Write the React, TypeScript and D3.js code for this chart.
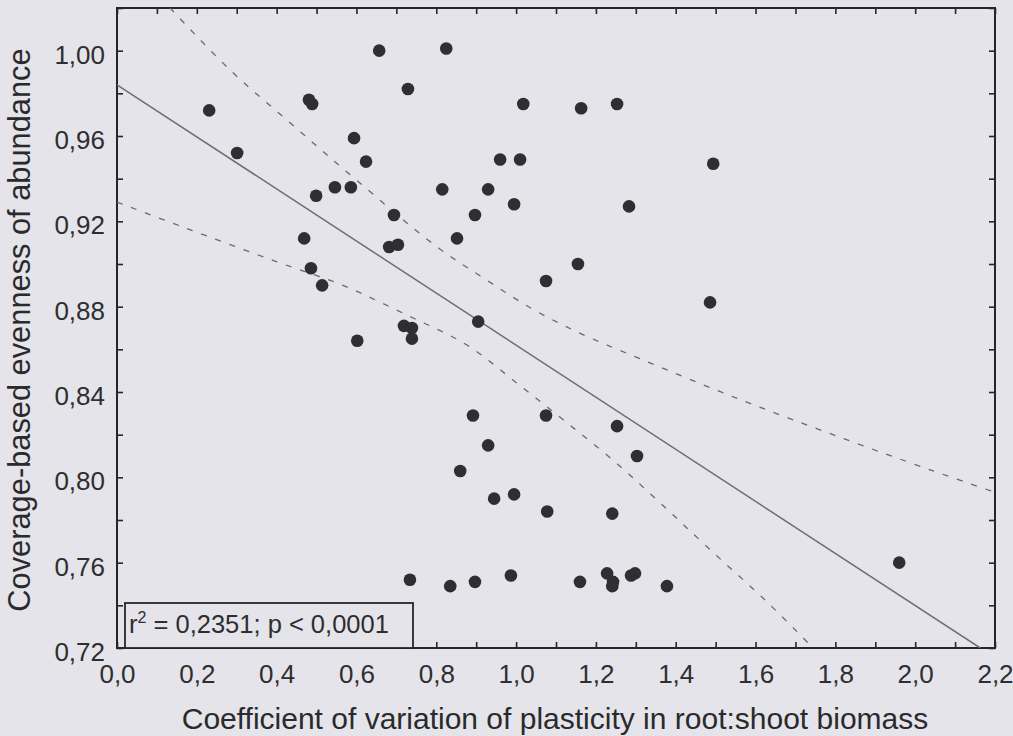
import React, { useEffect, useRef } from 'react';
import * as d3 from 'd3';

// coefficient of variation of plasticity (x) vs coverage-based evenness (y)
const cvPlasticity = [
  0.231, 0.301, 0.657, 0.825, 0.729, 0.481, 0.489, 0.594, 0.624, 0.499,
  0.546, 0.586, 0.694, 0.469, 0.682, 0.704, 0.852, 0.815, 0.897, 0.930,
  0.960, 1.010, 0.995, 1.018, 1.163, 1.253, 1.283, 1.494, 1.155, 1.075,
  1.486, 0.486, 0.514, 0.602, 0.719, 0.739, 0.739, 0.905, 0.892, 1.075,
  1.253, 0.930, 1.303, 0.860, 0.945, 0.995, 1.078, 1.241, 0.734, 0.835,
  0.897, 0.987, 1.160, 1.228, 1.243, 1.241, 1.288, 1.298, 1.378, 1.960,
];
const evenness = [
  0.972, 0.952, 1.000, 1.001, 0.982, 0.977, 0.975, 0.959, 0.948, 0.932,
  0.936, 0.936, 0.923, 0.912, 0.908, 0.909, 0.912, 0.935, 0.923, 0.935,
  0.949, 0.949, 0.928, 0.975, 0.973, 0.975, 0.927, 0.947, 0.900, 0.892,
  0.882, 0.898, 0.890, 0.864, 0.871, 0.870, 0.865, 0.873, 0.829, 0.829,
  0.824, 0.815, 0.810, 0.803, 0.790, 0.792, 0.784, 0.783, 0.752, 0.749,
  0.751, 0.754, 0.751, 0.755, 0.751, 0.749, 0.754, 0.755, 0.749, 0.760,
];

// fitted line and its 95% bands
const fitX = [0, 2.163];
const fitY = [0.984, 0.72];
const upperBandX = [0.133, 0.283, 0.441, 0.602, 0.802, 0.922, 1.04, 1.155, 1.318, 1.554, 1.794, 2.045, 2.2];
const upperBandY = [1.02, 0.991, 0.965, 0.939, 0.908, 0.893, 0.879, 0.868, 0.855, 0.837, 0.82, 0.803, 0.793];
const lowerBandX = [0, 0.17, 0.401, 0.566, 0.727, 0.877, 1.003, 1.118, 1.243, 1.361, 1.481, 1.632, 1.744];
const lowerBandY = [0.929, 0.917, 0.901, 0.89, 0.876, 0.862, 0.844, 0.827, 0.808, 0.788, 0.767, 0.741, 0.72];

const xTickLabels = [0, 0.2, 0.4, 0.6, 0.8, 1.0, 1.2, 1.4, 1.6, 1.8, 2.0, 2.2];
const yTickLabels = [0.72, 0.76, 0.8, 0.84, 0.88, 0.92, 0.96, 1.0];

const W = 1013;
const H = 736;

const Chart = () => {
  const ref = useRef<SVGSVGElement>(null);

  useEffect(() => {
    document.body.style.margin = '0';
    document.body.style.background = '#e4e4ea';

    const svg = d3.select(ref.current);
    svg.selectAll('*').remove();

    const margin = { top: 8, right: 18, bottom: 88, left: 117 };
    const width = W - margin.left - margin.right;
    const height = H - margin.top - margin.bottom;

    const x = d3.scaleLinear().domain([0, 2.2]).range([0, width]);
    const y = d3.scaleLinear().domain([0.72, 1.02]).range([height, 0]);

    const locale = d3.formatLocale({ decimal: ',', thousands: '.', grouping: [3], currency: ['', ''] });
    const fx = locale.format('.1f');
    const fy = locale.format('.2f');

    const g = svg.append('g').attr('transform', `translate(${margin.left},${margin.top})`);
    const ink = '#262626';

    // minor/major ticks on all four sides, pointing inwards
    const xMinor = d3.range(0, 2.2001, 0.1);
    const yMinor = d3.range(0.72, 1.0201, 0.02);
    g.append('g').attr('transform', `translate(0,${height})`)
      .call(d3.axisBottom(x).tickValues(xMinor).tickSize(-6).tickFormat(() => ''));
    g.append('g')
      .call(d3.axisTop(x).tickValues(xMinor).tickSize(-6).tickFormat(() => ''));
    g.append('g')
      .call(d3.axisLeft(y).tickValues(yMinor).tickSize(-6).tickFormat(() => ''));
    g.append('g').attr('transform', `translate(${width},0)`)
      .call(d3.axisRight(y).tickValues(yMinor).tickSize(-6).tickFormat(() => ''));
    g.selectAll('.domain').remove();
    g.selectAll('.tick line').attr('stroke', ink).attr('stroke-width', 1.6);

    // tick labels
    const xl = g.append('g').attr('transform', `translate(0,${height})`)
      .call(d3.axisBottom(x).tickValues(xTickLabels).tickSize(0).tickPadding(17).tickFormat(d => fx(+d)));
    const yl = g.append('g')
      .call(d3.axisLeft(y).tickValues(yTickLabels).tickSize(0).tickPadding(12).tickFormat(d => fy(+d)));
    [xl, yl].forEach(a => {
      a.select('.domain').remove();
      a.selectAll('text')
        .attr('fill', '#2e2e2e')
        .style('font-family', '"Liberation Sans", Arial, sans-serif')
        .style('font-size', '26px');
    });
    yl.selectAll('text').attr('dy', '0.48em');

    // frame
    g.append('rect')
      .attr('width', width).attr('height', height)
      .attr('fill', 'none').attr('stroke', ink).attr('stroke-width', 2);

    svg.append('clipPath').attr('id', 'plot-clip')
      .append('rect').attr('width', width).attr('height', height);
    const plot = g.append('g').attr('clip-path', 'url(#plot-clip)');

    const line = d3.line<[number, number]>().x(d => x(d[0])).y(d => y(d[1]));
    const band = d3.line<[number, number]>().x(d => x(d[0])).y(d => y(d[1])).curve(d3.curveCatmullRom);

    plot.append('path')
      .datum(upperBandX.map((v, i) => [v, upperBandY[i]] as [number, number]))
      .attr('d', band).attr('fill', 'none')
      .attr('stroke', '#6a6a6e').attr('stroke-width', 1.3).attr('stroke-dasharray', '6,9');
    plot.append('path')
      .datum(lowerBandX.map((v, i) => [v, lowerBandY[i]] as [number, number]))
      .attr('d', band).attr('fill', 'none')
      .attr('stroke', '#6a6a6e').attr('stroke-width', 1.3).attr('stroke-dasharray', '6,9');
    plot.append('path')
      .datum(fitX.map((v, i) => [v, fitY[i]] as [number, number]))
      .attr('d', line).attr('fill', 'none')
      .attr('stroke', '#6e6e72').attr('stroke-width', 1.5);

    plot.selectAll('circle')
      .data(cvPlasticity.map((v, i) => [v, evenness[i]]))
      .enter().append('circle')
      .attr('cx', d => x(d[0]))
      .attr('cy', d => y(d[1]))
      .attr('r', 6.3)
      .attr('fill', '#2f2f31');

    // statistics box
    const box = g.append('g').attr('transform', `translate(8,${height - 45})`);
    box.append('rect')
      .attr('width', 288).attr('height', 45)
      .attr('fill', '#e4e4ea').attr('stroke', ink).attr('stroke-width', 1.8);
    const stat = box.append('text')
      .attr('x', 4).attr('y', 30)
      .attr('fill', '#2e2e2e')
      .style('font-family', '"Liberation Sans", Arial, sans-serif')
      .style('font-size', '25.5px');
    stat.append('tspan').text('r');
    stat.append('tspan').attr('dy', -10).style('font-size', '16px').text('2');
    stat.append('tspan').attr('dy', 10).text(' = 0,2351; p < 0,0001');

    // axis titles
    svg.append('text')
      .attr('x', 555).attr('y', 729)
      .attr('text-anchor', 'middle')
      .attr('fill', '#2a2a2a')
      .style('font-family', '"Liberation Sans", Arial, sans-serif')
      .style('font-size', '30px')
      .text('Coefficient of variation of plasticity in root:shoot biomass');
    svg.append('text')
      .attr('transform', 'translate(30,330) rotate(-90)')
      .attr('text-anchor', 'middle')
      .attr('fill', '#2a2a2a')
      .style('font-family', '"Liberation Sans", Arial, sans-serif')
      .style('font-size', '30.8px')
      .text('Coverage-based evenness of abundance');
  }, []);

  return <svg ref={ref} width={W} height={H} style={{ display: 'block', background: '#e4e4ea' }} />;
};

export default function App() {
  return <Chart />;
}
